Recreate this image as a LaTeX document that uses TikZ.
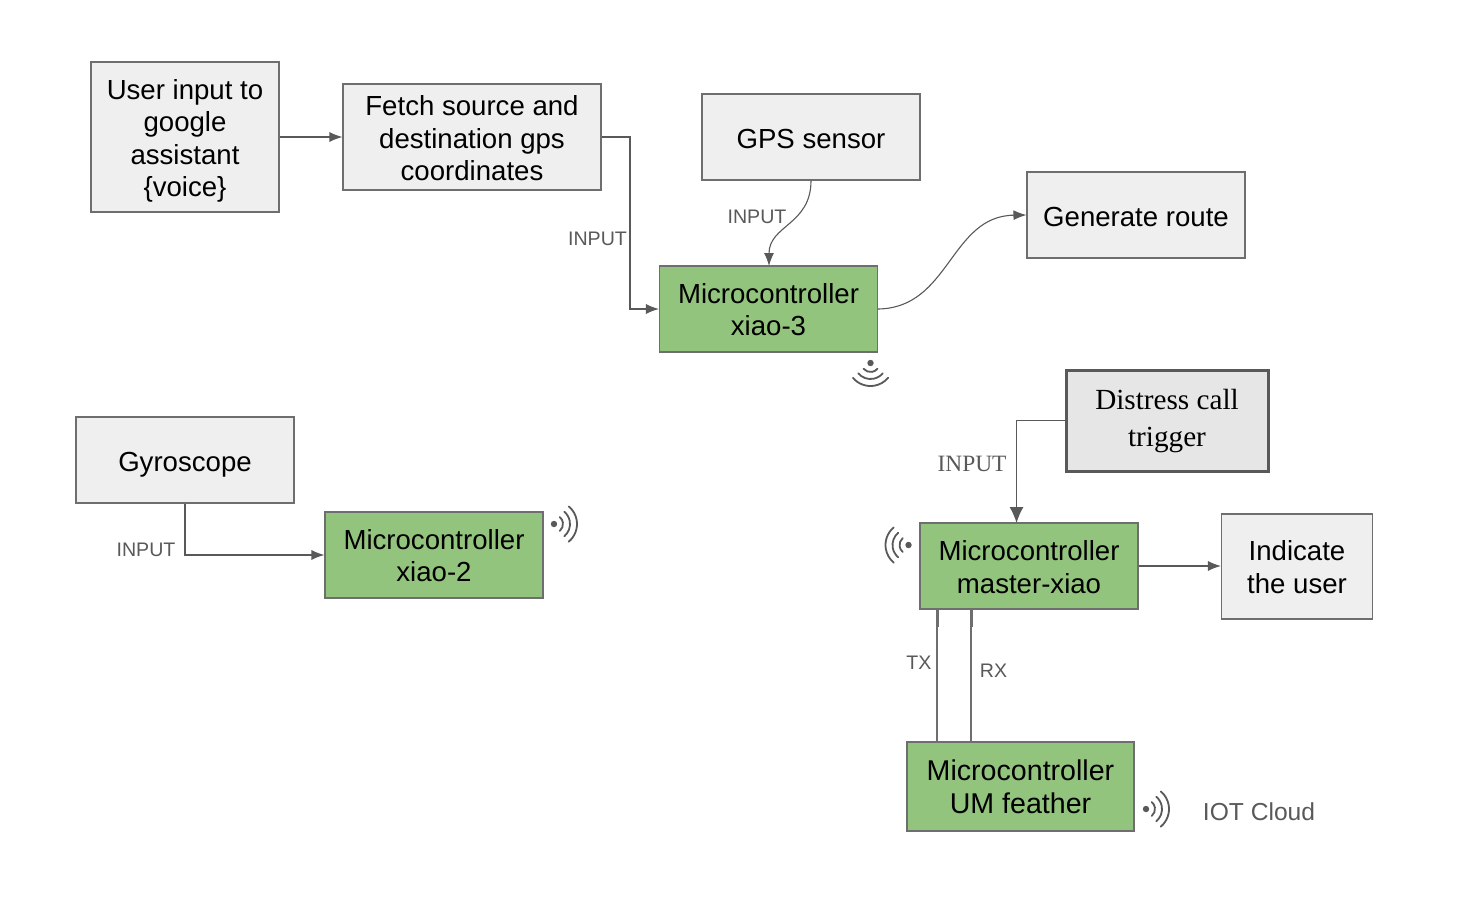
\documentclass[tikz,border=0pt]{standalone}
\usepackage{fontspec}
\setmainfont{Liberation Sans}
\newfontfamily\serifface{Liberation Serif}
\usetikzlibrary{arrows.meta}
\definecolor{boxgrey}{HTML}{EFEFEF}
\definecolor{boxgreen}{HTML}{93C47D}
\definecolor{edgegrey}{HTML}{6E6E6E}
\definecolor{linegrey}{HTML}{595959}
\definecolor{distressfill}{HTML}{E7E6E6}
\tikzset{
  basebox/.style={draw=edgegrey,line width=0.55pt,align=center,inner sep=0pt,text=black,
    font=\fontsize{13.8}{16.25}\selectfont},
  greybox/.style={basebox,fill=boxgrey},
  greenbox/.style={basebox,fill=boxgreen},
  distressbox/.style={draw=linegrey,fill=distressfill,line width=1.5pt,align=center,inner sep=0pt,text=black,
    font=\serifface\fontsize{14.6}{18.5}\selectfont},
  conn/.style={draw=linegrey,line width=0.55pt,-{Latex[length=6.5pt,width=5pt]}},
  plainconn/.style={draw=edgegrey,line width=0.6pt},
  lab/.style={text=linegrey,inner sep=0pt,font=\fontsize{9.8}{12}\selectfont},
  wifi/.style={draw=linegrey,line width=0.9pt,line cap=round},
}
% text block moved down by #1 without changing the size of its node
\newcommand{\dn}[2]{\raisebox{-#1}[\height][\depth]{\begin{tabular}{@{}c@{}}#2\end{tabular}}}
\newcommand{\wifiicon}[3]{% x, y, direction of the arcs
  \begin{scope}[shift={(#1,#2)},x=0.5pt,y=0.5pt,rotate=#3]
    \fill[linegrey] (0,0) circle (1.6pt);
    \draw[wifi] (-50:9) arc[start angle=-50,end angle=50,radius=9];
    \draw[wifi] (-50:16) arc[start angle=-50,end angle=50,radius=16];
    \draw[wifi] (-50:23) arc[start angle=-50,end angle=50,radius=23];
  \end{scope}
}
\begin{document}
\begin{tikzpicture}[x=0.5pt,y=-0.5pt]
\useasboundingbox (0,0) rectangle (1470,900);
\fill[white] (0,0) rectangle (1470,900);

\node[greybox,minimum width=94pt,minimum height=75pt] (user) at (185,137) {\dn{2.2pt}{User input to\\google\\assistant\\\{voice\}}};
\node[greybox,minimum width=129pt,minimum height=53pt] (fetch) at (472,137) {\dn{2.35pt}{Fetch source and\\destination gps\\coordinates}};
\node[greybox,minimum width=109pt,minimum height=43pt] (gps) at (811,137) {\dn{2.7pt}{GPS sensor}};
\node[greybox,minimum width=109pt,minimum height=43pt] (route) at (1136,215) {\dn{2.7pt}{Generate route}};
\node[greenbox,minimum width=109pt,minimum height=43pt] (xiao3) at (768.5,309) {\dn{2.1pt}{Microcontroller\\xiao-3}};
\node[greybox,minimum width=109pt,minimum height=43pt] (gyro) at (185,460) {\dn{2.5pt}{Gyroscope}};
\node[greenbox,minimum width=109pt,minimum height=43pt] (xiao2) at (434,555) {\dn{2.1pt}{Microcontroller\\xiao-2}};
\node[distressbox,minimum width=101pt,minimum height=50.5pt] (distress) at (1167,420.5) {\dn{0.1pt}{Distress call\\trigger}};
\node[greenbox,minimum width=109pt,minimum height=43pt] (master) at (1029,566) {\dn{2.2pt}{Microcontroller\\master-xiao}};
\node[greybox,minimum width=75.5pt,minimum height=52.5pt] (indicate) at (1297,566.5) {\dn{2pt}{Indicate\\the user}};
\node[greenbox,minimum width=113.5pt,minimum height=44.5pt,font=\fontsize{14.3}{16.5}\selectfont] (feather) at (1020.5,786.5) {\dn{2.1pt}{Microcontroller\\UM feather}};

\draw[conn] (user.east) -- (fetch.west);
\draw[conn] (fetch.east) -- (630,137) |- (xiao3.west);
\draw[conn] (gps.south) .. controls (811,225) and (769,225) .. (769,266);
\draw[conn] (xiao3.east) .. controls (950,308) and (950,216) .. (route.west);
\draw[conn] (gyro.south) |- (xiao2.west);
\draw[draw=linegrey,line width=0.55pt,-{Latex[length=8pt,width=7pt]}] (distress.west) -| (1016.5,523);
\draw[conn] (master.east) -- (master.east -| indicate.west);

\coordinate (txtop) at (937,609);
\coordinate (rxtop) at (971,609);
\coordinate (txbot) at (937,742);
\coordinate (rxbot) at (971,742);
\draw[plainconn] (txtop) -- (txbot);
\draw[plainconn] (rxtop) -- (rxbot);
\draw[plainconn,line width=1.5pt] (txtop) -- (937,627);
\draw[plainconn,line width=1.5pt] (rxtop) -- (971,627);

\node[lab] (linput1) at (597.5,238.5) {INPUT};
\node[lab] (linput2) at (757,216.5) {INPUT};
\node[lab] (linput3) at (146,550) {INPUT};
\node[lab,font=\serifface\fontsize{11.7}{14}\selectfont] (linput4) at (972,464) {INPUT};
\node[lab] (ltx) at (919,663) {TX};
\node[lab] (lrx) at (993.5,671) {RX};
\node[lab,font=\fontsize{12.3}{15}\selectfont] (lcloud) at (1259,812) {IOT Cloud};

\wifiicon{870.5}{363}{-90}
\wifiicon{554}{524}{0}
\wifiicon{908.5}{545}{180}
\wifiicon{1146}{809}{0}
\end{tikzpicture}
\end{document}
